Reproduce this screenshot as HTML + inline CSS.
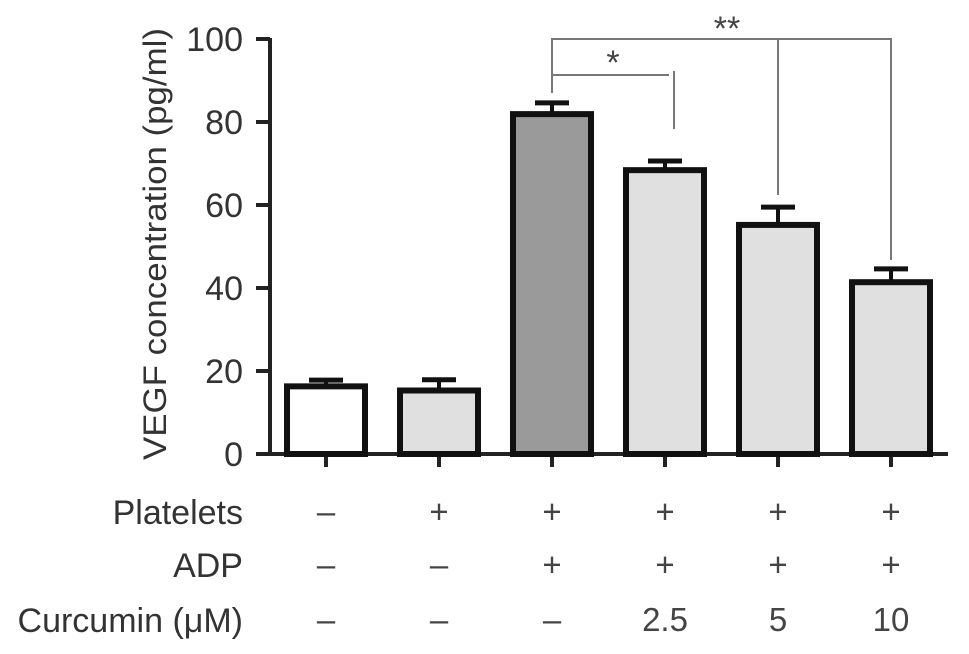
<!DOCTYPE html>
<html><head><meta charset="utf-8"><style>
html,body{margin:0;padding:0;background:#fff;}
svg{display:block;font-family:"Liberation Sans",Arial,sans-serif;}
</style></head><body>
<svg id="chart" width="969" height="654" viewBox="0 0 969 654" xmlns="http://www.w3.org/2000/svg">
<g id="g"></g>
</svg>
<script>
const categories=["Control","Platelets","Platelets+ADP","Curcumin 2.5","Curcumin 5","Curcumin 10"];
const values=[16.3,15.3,81.9,68.4,55.2,41.4];
const errors=[1.5,2.6,2.7,2.2,4.3,3.2];
const fills=["#ffffff","#e0e0e0","#9a9a9a","#e0e0e0","#e0e0e0","#e0e0e0"];
const yTicks=[0,20,40,60,80,100];
const platelets=["\u2013","+","+","+","+","+"];
const adp=["\u2013","\u2013","+","+","+","+"];
const curcumin=["\u2013","\u2013","\u2013","2.5","5","10"];

const NS="http://www.w3.org/2000/svg";
const g=document.getElementById('g');
const y0=454,pxPer=4.15,x0=326,step=113,barW=78;
const yS=v=>y0-v*pxPer;
const xS=i=>x0+i*step;
function mk(tag,attrs,parent){const e=document.createElementNS(NS,tag);for(const k in attrs)e.setAttribute(k,attrs[k]);(parent||g).appendChild(e);return e;}

let e=mk('line',{x1:270,y1:yS(100)-1,x2:270,y2:y0+2,stroke:'#222','stroke-width':4});


e=mk('line',{x1:256,y1:y0,x2:948,y2:y0,stroke:'#222','stroke-width':4});


yTicks.forEach(t=>{
  let l=mk('line',{x1:256,y1:yS(t),x2:270,y2:yS(t),stroke:'#222','stroke-width':4});
  
  
  let tx=mk('text',{x:243,y:yS(t)+12,'text-anchor':'end','font-size':34,fill:'#333'});
  tx.textContent=t;
  
  
});
e=mk('text',{transform:'translate(193,244) rotate(-90)','text-anchor':'middle','font-size':32,fill:'#333',textLength:432,lengthAdjust:'spacingAndGlyphs'});
e.setAttribute('transform','translate(166,244) rotate(-90)');
e.textContent='VEGF concentration (pg/ml)';



categories.forEach((c,i)=>{
  const cx=xS(i);
  let t=mk('line',{x1:cx,y1:y0,x2:cx,y2:y0+13,stroke:'#222','stroke-width':4});
  
  
  const top=yS(values[i]+errors[i]);
  let eb=mk('line',{x1:cx,y1:top,x2:cx,y2:yS(values[i]),stroke:'#111','stroke-width':4});
  
  
  let cap=mk('line',{x1:cx-17,y1:top,x2:cx+17,y2:top,stroke:'#111','stroke-width':5});
  
  
  let r=mk('rect',{x:cx-barW/2,y:yS(values[i]),width:barW,height:y0-yS(values[i]),fill:fills[i],stroke:'#111','stroke-width':6});
  
  
  [[platelets,512],[adp,565],[curcumin,620]].forEach(([arr,yy])=>{
    let tx=mk('text',{x:cx,y:yy+11,'text-anchor':'middle','font-size':33,fill:'#444'});
    tx.textContent=arr[i];
    
    
  });
});
[["Platelets",512],["ADP",565],["Curcumin (\u03bcM)",620]].forEach(([s,yy])=>{
  let tx=mk('text',{x:243,y:yy+12,'text-anchor':'end','font-size':34,fill:'#333'});
  tx.textContent=s;
  
  
});

const bs={stroke:'#777','stroke-width':2,fill:'none'};
e=mk('path',Object.assign({d:`M${xS(2)},93 V39 H${xS(5)} V260 M${xS(4)},39 V195`},bs));


e=mk('path',Object.assign({d:`M${xS(2)},75 H${xS(3)+4} M${xS(3)+9},71 V129`},bs));


e=mk('text',{x:613,y:74,'text-anchor':'middle','font-size':34,fill:'#444'});
e.textContent='*';


e=mk('text',{x:727,y:40,'text-anchor':'middle','font-size':34,fill:'#444'});
e.textContent='**';


</script>
</body></html>
